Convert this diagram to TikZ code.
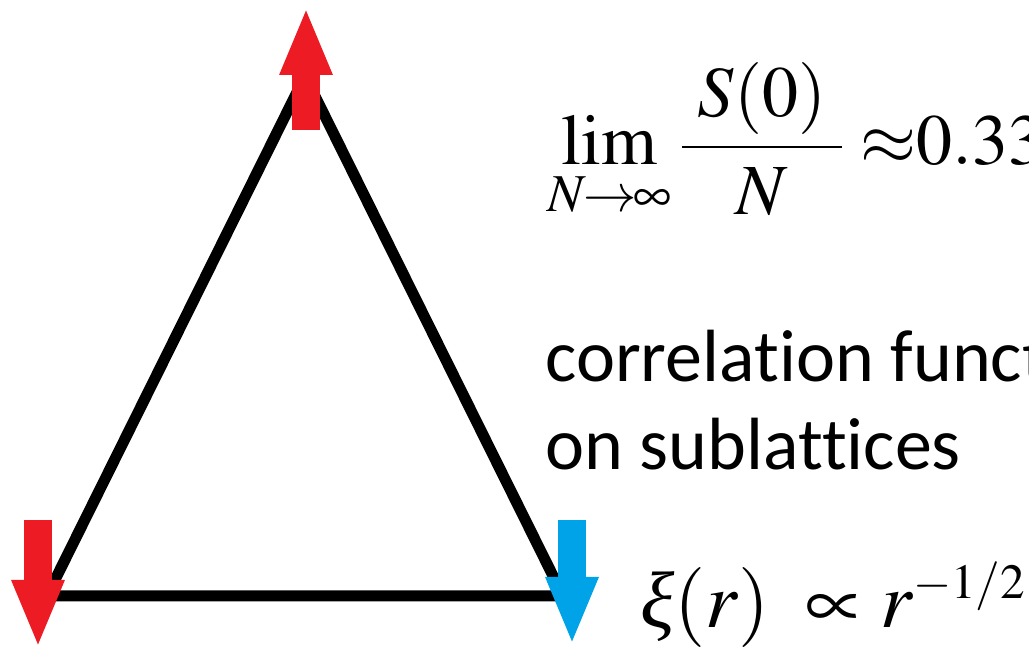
\documentclass[tikz,border=0pt]{standalone}
\usepackage{amsmath}
\usepackage{mathptmx}
\usepackage[no-math]{fontspec}
\newfontfamily\calibri[Ligatures=NoCommon]{Carlito}
\newfontfamily\timesfont{Liberation Serif}
\usetikzlibrary{
	positioning,
	arrows.meta
}
\definecolor{spinred}{HTML}{ED1C24}
\definecolor{spinblue}{HTML}{00A2E8}
\tikzset{
	bond/.style={line width=5.5pt, line join=round},
	spinarrow/.style={line width=14pt, -{Triangle[width=24pt,length=34pt]}},
	mathtext/.style={inner sep=0pt, font=\fontsize{36}{44}\selectfont},
	xitext/.style={inner sep=0pt, font=\fontsize{40}{48}\selectfont},
	plaintext/.style={inner sep=0pt, font=\calibri\fontsize{37}{44}\selectfont}
}

\begin{document}
\begin{tikzpicture}[x=0.5pt,y=-0.5pt]
			
			\useasboundingbox (0,0) rectangle (1029,651);
			\clip (0,0) rectangle (1029,651);
			
			\coordinate (top) at (305,76);
			\coordinate (left) at (47,596);
			\coordinate (right) at (563,596);
			
			\draw[bond] (top) -- (left) -- (right) -- cycle;
			
			\coordinate (topTail) at (306,130);
			\coordinate (topTip) at (306,7);
			\coordinate (leftTail) at (38,520);
			\coordinate (leftTip) at (38,648);
			\coordinate (rightTail) at (572,520);
			\coordinate (rightTip) at (572,645);
			
			\draw[spinarrow,spinred] (topTail) -- (topTip);
			\draw[spinarrow,spinred] (leftTail) -- (leftTip);
			\draw[spinarrow,spinblue] (rightTail) -- (rightTip);
			
			\node[mathtext,anchor=base west] (limit) at (547,165) {$\displaystyle\lim_{N\mkern-1mu\to\mkern-1mu\infty}\frac{\;S(0)\;}{N}\approx\mkern-4mu0.33$};
			\node[plaintext,anchor=base west] (corr) at (545,382) {correlation functions};
			\node[plaintext,anchor=base west] (sublat) at (545,470) {on sublattices};
			\node[xitext,anchor=base west] (decay) at (640,628) {$\mbox{\timesfont\itshape ξ}(r)\;\propto r^{\scalebox{0.83}{$\scriptstyle-1/2$}}$};
			
		\end{tikzpicture}
\end{document}
